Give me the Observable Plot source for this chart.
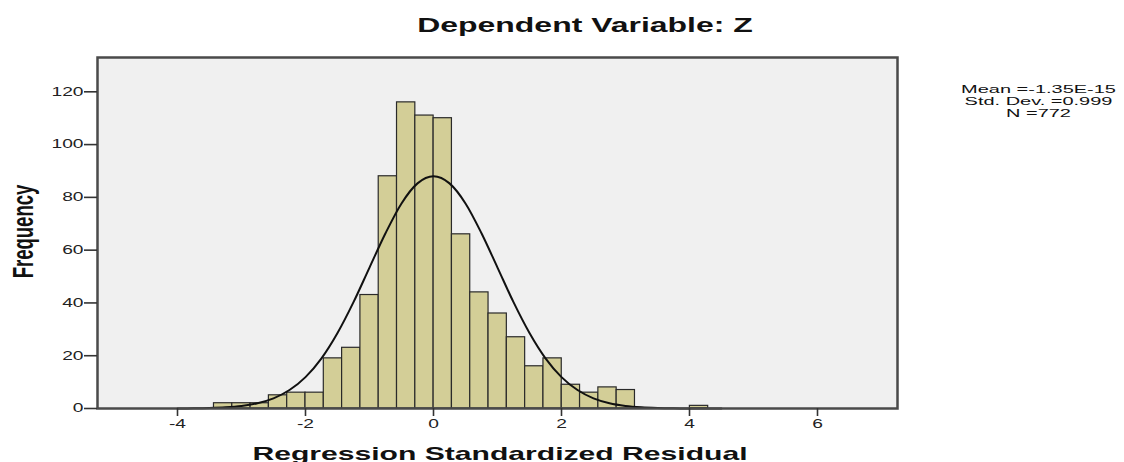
<!DOCTYPE html>
<html>
<head>
<meta charset="utf-8">
<script src="https://cdn.jsdelivr.net/npm/d3@7"></script>
<script src="https://cdn.jsdelivr.net/npm/@observablehq/plot@0.6"></script>
<style>
  body { margin: 0; background: #ffffff; }
  #chart { width: 1124px; height: 462px; }
</style>
</head>
<body>
<div id="chart"></div>
<script>
// ---- data ----
const title = "Dependent Variable: Z";
const xLabel = "Regression Standardized Residual";
const yLabel = "Frequency";
const statsLines = ["Mean =-1.35E-15", "Std. Dev. =0.999", "N =772"];

const binStart = -3.43;   // lower edge of first bin
const binWidth = 0.286;   // bin width
const counts = [2, 2, 2, 5, 6, 6, 19, 23, 43, 88, 116, 111, 110, 66, 44, 36, 27, 16, 19, 9, 6, 8, 7, 0, 0, 0, 1];

// normal curve
const curveX = [-4, -3.75, -3.5, -3.25, -3, -2.75, -2.5, -2.25, -2, -1.75, -1.5, -1.25, -1, -0.75, -0.5, -0.25, 0,
                0.25, 0.5, 0.75, 1, 1.25, 1.5, 1.75, 2, 2.25, 2.5, 2.75, 3, 3.25, 3.5, 3.75, 4, 4.25, 4.5];
const curveY = [0.03, 0.07, 0.19, 0.45, 0.98, 2.0, 3.86, 7.0, 11.9, 19.0, 28.6, 40.3, 53.4, 66.4, 77.7, 85.3, 88,
                85.3, 77.7, 66.4, 53.4, 40.3, 28.6, 19.0, 11.9, 7.0, 3.86, 2.0, 0.98, 0.45, 0.19, 0.07, 0.03, 0.01, 0];

const xTicks = [-4, -2, 0, 2, 4, 6];
const yTicks = [0, 20, 40, 60, 80, 100, 120];

// ---- tables for the library ----
const bars = counts
  .map((c, i) => ({x1: binStart + i * binWidth, x2: binStart + (i + 1) * binWidth, y: c}))
  .filter(d => d.y > 0);
const curve = curveX.map((x, i) => ({x, y: curveY[i]}));

const FONT = "'Liberation Sans', Arial, Helvetica, sans-serif";
const SX = 1.6; // horizontal stretch seen in the reference text

const plot = Plot.plot({
  width: 1124,
  height: 462,
  marginLeft: 97,
  marginRight: 227,
  marginTop: 57,
  marginBottom: 54,
  style: {fontFamily: FONT, fontSize: "12px", color: "#222", background: "#ffffff", overflow: "visible"},
  x: {domain: [-5.25, 7.25], label: null},
  y: {domain: [0, 133], label: null},
  marks: [
    Plot.frame({fill: "#f0f0f0"}),
    Plot.rectY(bars, {x1: "x1", x2: "x2", y: "y", fill: "#d3ce97", stroke: "#2a2a2a", strokeWidth: 1.2}),
    Plot.line(curve, {x: "x", y: "y", stroke: "#111", strokeWidth: 2, curve: "monotone-x"}),
    Plot.frame({stroke: "#4a4a4a", strokeWidth: 2.5}),
    Plot.axisX({ticks: xTicks, tickFormat: d => String(d), tickSize: 8, tickPadding: 3, label: null, stroke: "#333", strokeWidth: 1.6}),
    Plot.axisY({ticks: yTicks, tickFormat: d => String(d), tickSize: 13, tickPadding: 1, label: null, stroke: "#333", strokeWidth: 1.6})
  ]
});

document.getElementById("chart").appendChild(plot);

const svg = d3.select(plot);

// stretch tick labels horizontally around their anchor
svg.selectAll("g[aria-label$='tick label'] text").each(function () {
  const t = this.getAttribute("transform") || "";
  const x = +(this.getAttribute("x") || 0);
  this.setAttribute("transform", `${t} translate(${x},0) scale(${SX},1) translate(${-x},0)`);
});

function addText(str, x, y, size, weight, anchor, sx, extra) {
  svg.append("text")
    .attr("transform", `translate(${x},${y}) scale(${sx},1)` + (extra || ""))
    .attr("text-anchor", anchor)
    .attr("font-family", FONT)
    .attr("font-size", size)
    .attr("font-weight", weight)
    .attr("fill", "#111")
    .text(str);
}

addText(title, 585, 32, 19.5, "bold", "middle", 1.64);
addText(xLabel, 500, 460, 18.6, "bold", "middle", 1.62);
addText(yLabel, 33.3, 231.5, 18.5, "bold", "middle", SX, " rotate(-90)");
statsLines.forEach((s, i) => addText(s, 1038.5, 92.5 + i * 12, 10.8, "normal", "middle", 1.85));
</script>
</body>
</html>
